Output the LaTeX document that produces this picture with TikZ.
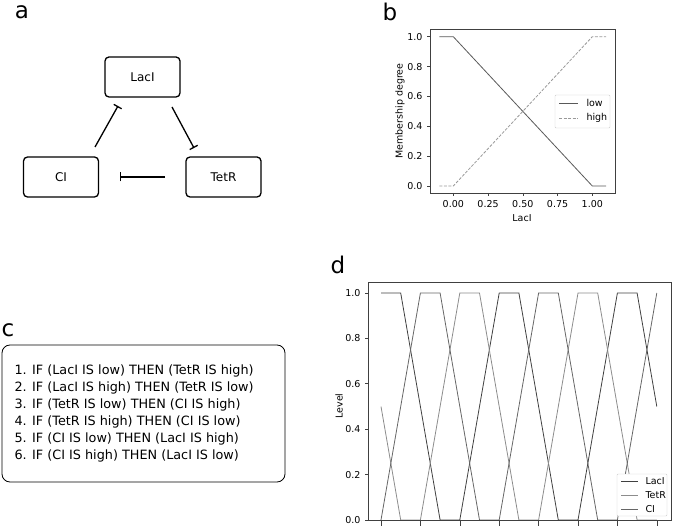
\documentclass[tikz,border=0pt]{standalone}
\usepackage{fontspec}
\setmainfont{DejaVu Sans}
\usetikzlibrary{arrows.meta}
\begin{document}
\begin{tikzpicture}[x=1pt,y=-1pt,
  box/.style={draw,line width=1.3pt,rounded corners=4pt,minimum width=75pt,minimum height=40pt,font=\fontsize{12}{14}\selectfont},
  inh/.style={line width=1.3pt,-{Bar[width=9pt]}},
  lbl/.style={font=\fontsize{23}{25}\selectfont},
  tick/.style={font=\fontsize{9.5}{11}\selectfont},
  ax/.style={draw=black!75,line width=0.6pt},
  lac/.style={black!75,line width=0.8pt},
  tet/.style={black!45,line width=0.8pt},
  ci/.style={black!60,line width=0.8pt}]
\useasboundingbox (0,0) rectangle (680,526);
\node[lbl] (la) at (22,12) {a};
\node[lbl] (lb) at (390,12) {b};
\node[lbl] (lc) at (8,330) {c};
\node[lbl] (ld) at (338,265) {d};
% panel a
\node[box] (lacI) at (142.5,77) {LacI};
\node[box] (cI) at (61,177) {CI};
\node[box] (tetR) at (223.5,177) {TetR};
\coordinate (c1) at (95,147); \coordinate (c2) at (118,106);
\coordinate (l1) at (172,107); \coordinate (l2) at (194,148);
\coordinate (t1) at (165,177); \coordinate (t2) at (120,177);
\draw[inh] (c1) -- (c2);
\draw[inh] (l1) -- (l2);
\draw[inh] (t1) -- (t2);
% panel b
\draw[ax] (430,29) rectangle (615,193);
\foreach \v/\t in {0/0.00,0.25/0.25,0.5/0.50,0.75/0.75,1/1.00}{
  \draw[ax] ({453.3+139*\v},193) -- ++(0,3);
  \node[tick,anchor=north] at ({453.3+139*\v},197) {\t};}
\foreach \v/\t in {0/0.0,0.2/0.2,0.4/0.4,0.6/0.6,0.8/0.8,1/1.0}{
  \draw[ax] (430,{186-149.3*\v}) -- ++(-3,0);
  \node[tick,anchor=east] at (426,{186-149.3*\v}) {\t};}
\node[tick] (bx) at (522,218) {LacI};
\node[tick,rotate=90] (by) at (400,111) {Membership degree};
\draw[black!65,line width=0.8pt] (439.4,36.7) -- (453.3,36.7) -- (592.3,186) -- (606.2,186);
\draw[black!40,line width=0.8pt,dash pattern=on 3pt off 1.5pt] (439.4,186) -- (453.3,186) -- (592.3,36.7) -- (606.2,36.7);
\draw[black!20,fill=white,rounded corners=1pt] (555,95) rectangle (610,128);
\draw[black!65,line width=0.8pt] (559,103) -- (578,103);
\node[tick,anchor=west] at (583,103) {low};
\draw[black!40,line width=0.8pt,dash pattern=on 3pt off 1.5pt] (559,118) -- (578,118);
\node[tick,anchor=west] at (583,118) {high};
% panel c
\node[draw,line width=0.8pt,rounded corners=8pt,minimum width=283pt,minimum height=137pt] (rules) at (143.5,413.5) {};
\node[anchor=north west,align=left,font=\fontsize{12.8}{17}\selectfont] (rt) at (11,361) {1. IF (LacI IS low) THEN (TetR IS high)\\2. IF (LacI IS high) THEN (TetR IS low)\\3. IF (TetR IS low) THEN (CI IS high)\\4. IF (TetR IS high) THEN (CI IS low)\\5. IF (CI IS low) THEN (LacI IS high)\\6. IF (CI IS high) THEN (LacI IS low)};
% panel d
\begin{scope}[shift={(381,520)}]
\begin{scope}[x=39.4pt,y=227pt]
\draw[lac] (0,1) -- (0.5,1) -- (1.5,0) -- (2,0) -- (3,1) -- (3.5,1) -- (4.5,0) -- (5,0) -- (6,1) -- (6.5,1) -- (7,0.5);
\draw[tet] (0,0.5) -- (0.5,0) -- (1,0) -- (2,1) -- (2.5,1) -- (3.5,0) -- (4,0) -- (5,1) -- (5.5,1) -- (6.5,0) -- (7,0);
\draw[ci] (0,0) -- (1,1) -- (1.5,1) -- (2.5,0) -- (3,0) -- (4,1) -- (4.5,1) -- (5.5,0) -- (6,0) -- (7,1);
\foreach \i in {0,...,7} \draw[ax] (\i,0) -- ++(0,-0.025);
\foreach \v in {0.0,0.2,0.4,0.6,0.8,1.0}{
  \draw[ax] (-0.33,\v) -- ++(-0.08,0);
  \node[tick,anchor=east] at (-0.43,\v) {\v};}
\end{scope}
\end{scope}
\draw[ax] (368,282) rectangle (671,520);
\node[tick,rotate=90] (dy) at (339,406) {Level};
\draw[black!20,fill=white,rounded corners=1pt] (617,474) rectangle (667,516);
\draw[lac] (621,481) -- (638,481); \node[tick,anchor=west] at (642,481) {LacI};
\draw[tet] (621,495) -- (638,495); \node[tick,anchor=west] at (642,495) {TetR};
\draw[ci] (621,509) -- (638,509); \node[tick,anchor=west] at (642,509) {CI};
\end{tikzpicture}
\end{document}
